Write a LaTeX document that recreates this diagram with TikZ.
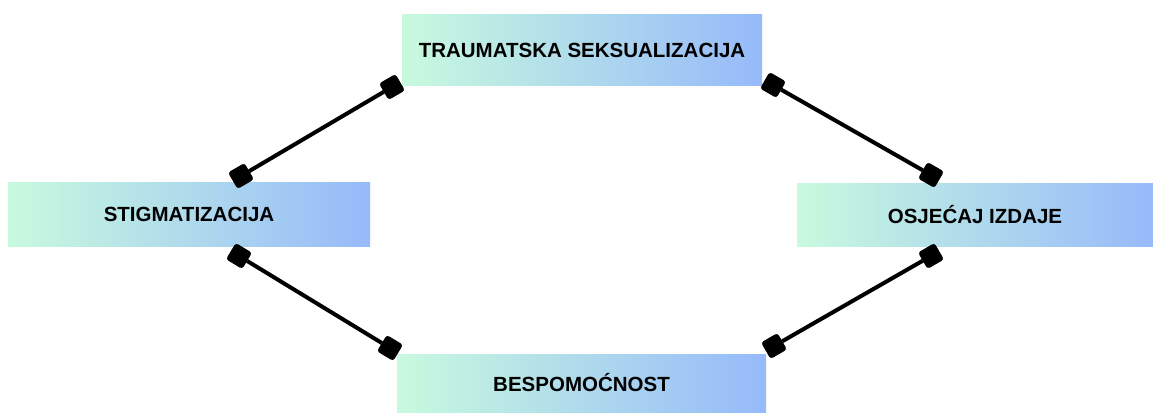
\documentclass[tikz,border=0pt]{standalone}
\usepackage{fontspec}
\setmainfont{Liberation Sans}
\definecolor{gl}{RGB}{200,250,222}
\definecolor{gr}{RGB}{150,186,250}
\tikzset{
  box/.style={draw=none, left color=gl, right color=gr, inner sep=0pt,
    font=\fontsize{20.5}{24}\selectfont\bfseries, text=black},
  endsq/.style={fill=black, draw=black, line width=1pt, rounded corners=2.5pt,
    minimum width=18pt, minimum height=18pt, inner sep=0pt, rotate=#1},
  link/.style={line width=4pt}
}
\begin{document}
\begin{tikzpicture}[x=1pt,y=-1pt]
\useasboundingbox (0,0) rectangle (1153,412);
\node[box, minimum width=360pt, minimum height=70pt] (top) at (582,50) {TRAUMATSKA SEKSUALIZACIJA};
\node[box, minimum width=362pt, minimum height=64pt] (left) at (189,214) {STIGMATIZACIJA};
\node[box, minimum width=356pt, minimum height=63pt] (right) at (975,214.5) {OSJEĆAJ IZDAJE};
\node[box, minimum width=369pt, minimum height=58pt] (bottom) at (581.5,383) {BESPOMOĆNOST};
\node[endsq=30] (a1) at (392,87) {};
\node[endsq=30] (a2) at (241,176) {};
\node[endsq=-31] (b1) at (239,256) {};
\node[endsq=-31] (b2) at (390,348) {};
\node[endsq=-30] (c1) at (773,85) {};
\node[endsq=-30] (c2) at (931,175) {};
\node[endsq=30] (d1) at (931,256) {};
\node[endsq=30] (d2) at (774,346) {};
\draw[link] (a1) -- (a2);
\draw[link] (b1) -- (b2);
\draw[link] (c1) -- (c2);
\draw[link] (d1) -- (d2);
\end{tikzpicture}
\end{document}
